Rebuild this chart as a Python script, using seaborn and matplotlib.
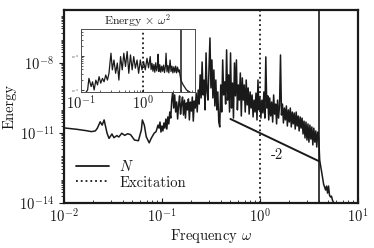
import matplotlib
matplotlib.use("Agg")
import matplotlib.pyplot as plt
import matplotlib.ticker as mticker
from matplotlib.lines import Line2D
import seaborn as sns
import numpy as np
import pandas as pd

# ── Data (log10 units) ───────────────────────────────────────────────────────
# low-frequency part of the spectrum
LOW_LOGW = [-2.00, -1.87, -1.77, -1.72, -1.68, -1.66, -1.63, -1.61, -1.59, -1.56,
            -1.54, -1.51, -1.49, -1.46, -1.44, -1.41, -1.38, -1.35, -1.32, -1.28,
            -1.24, -1.21, -1.20, -1.18, -1.16, -1.13, -1.11, -1.08, -1.06, -1.04]
LOW_LOGE = [-10.78, -10.84, -10.90, -10.94, -10.91, -10.80, -10.52, -10.66, -10.44, -11.01,
            -11.23, -11.04, -11.20, -11.11, -11.17, -11.01, -11.10, -11.03, -11.07, -11.30,
            -11.33, -10.87, -10.44, -10.66, -11.16, -11.42, -11.23, -11.01, -10.94, -10.66]

# noisy band up to the cut-off
MID_LOGW = [-1.03, -1.02, -1.01, -1.00, -0.99, -0.98, -0.97, -0.96, -0.95, -0.94,
            -0.93, -0.92, -0.91, -0.90, -0.89, -0.88, -0.87, -0.86, -0.85, -0.84,
            -0.83, -0.82, -0.81, -0.80, -0.79, -0.78, -0.77, -0.76, -0.75, -0.74,
            -0.73, -0.72, -0.71, -0.70, -0.69, -0.68, -0.67, -0.66, -0.65, -0.64,
            -0.63, -0.62, -0.61, -0.60, -0.59, -0.58, -0.57, -0.56, -0.55, -0.54,
            -0.53, -0.52, -0.51, -0.50, -0.49, -0.48, -0.47, -0.46, -0.45, -0.44,
            -0.43, -0.42, -0.41, -0.40, -0.39, -0.38, -0.37, -0.36, -0.35, -0.34,
            -0.33, -0.32, -0.31, -0.30, -0.29, -0.28, -0.27, -0.26, -0.25, -0.24,
            -0.23, -0.22, -0.21, -0.20, -0.19, -0.18, -0.17, -0.16, -0.15, -0.14,
            -0.13, -0.12, -0.11, -0.10, -0.09, -0.08, -0.07, -0.06, -0.05, -0.04,
            -0.03, -0.02, -0.01, 0.00, 0.01, 0.02, 0.03, 0.04, 0.05, 0.06,
            0.07, 0.08, 0.09, 0.10, 0.11, 0.12, 0.13, 0.14, 0.15, 0.16,
            0.17, 0.18, 0.19, 0.20, 0.21, 0.22, 0.23, 0.24, 0.25, 0.26,
            0.27, 0.28, 0.29, 0.30, 0.31, 0.32, 0.33, 0.34, 0.35, 0.36,
            0.37, 0.38, 0.39, 0.40, 0.41, 0.42, 0.43, 0.44, 0.45, 0.46,
            0.47, 0.48, 0.49, 0.50, 0.51, 0.52, 0.53, 0.54, 0.55, 0.56,
            0.57, 0.58, 0.59, 0.60]
MID_LOGE = [-10.79, -10.53, -10.96, -10.70, -10.91, -10.57, -10.79, -10.40, -10.83, -10.31,
            -10.61, -10.10, -10.36, -9.59, -9.24, -9.93, -9.37, -10.10, -9.67, -10.40,
            -9.80, -9.41, -10.19, -9.76, -9.46, -10.23, -9.59, -10.36, -9.71, -10.01,
            -9.54, -10.44, -9.67, -10.06, -9.46, -10.49, -9.63, -9.93, -9.29, -10.10,
            -9.16, -9.76, -8.51, -9.50, -7.96, -9.37, -8.73, -10.01, -7.57, -9.24,
            -9.59, -8.30, -6.93, -9.07, -7.87, -9.50, -8.30, -9.84, -8.73, -10.01,
            -9.24, -10.53, -10.74, -8.94, -10.10, -7.87, -9.37, -8.81, -9.76, -7.44,
            -9.59, -8.51, -10.10, -7.57, -9.93, -8.86, -10.36, -8.00, -9.41, -7.87,
            -10.01, -8.94, -9.59, -8.43, -10.27, -8.64, -9.59, -8.94, -10.10, -8.73,
            -9.80, -9.07, -10.19, -9.24, -9.93, -9.37, -10.31, -9.59, -10.10, -9.29,
            -10.44, -8.73, -10.01, -9.50, -10.36, -9.59, -10.14, -9.24, -10.36, -7.74,
            -9.93, -9.41, -10.44, -9.50, -10.27, -9.67, -10.53, -9.37, -10.19, -9.76,
            -10.61, -9.59, -10.36, -9.84, -7.66, -10.23, -9.76, -10.57, -9.93, -10.44,
            -9.84, -10.70, -10.01, -10.53, -9.93, -10.74, -10.10, -10.61, -10.14, -10.83,
            -10.10, -10.70, -10.27, -10.91, -10.31, -10.79, -10.36, -11.04, -10.49, -11.21,
            -10.53, -11.30, -10.61, -11.39, -10.66, -11.26, -10.74, -11.51, -10.79, -11.39,
            -10.91, -11.60, -10.96, -11.21]

# steep drop past the cut-off
TAIL_LOGW = [0.61, 0.62, 0.63, 0.64, 0.65, 0.66, 0.67, 0.68, 0.69, 0.70,
             0.71, 0.72, 0.73, 0.74, 0.75, 0.76, 0.78]
TAIL_LOGE = [-12.16, -12.41, -12.67, -12.93, -13.19, -13.31, -13.44, -13.27, -13.57, -13.27,
             -13.66, -13.74, -13.70, -13.87, -13.96, -14.09, -14.21]

# inset: Energy x w^2
INSET_LOGW = [-0.952, -0.894, -0.873, -0.837, -0.815, -0.789, -0.762, -0.735, -0.710, -0.683,
              -0.656, -0.630, -0.603, -0.576, -0.551, -0.535, -0.519, -0.497, -0.471, -0.444,
              -0.417, -0.392, -0.365, -0.338, -0.313, -0.286, -0.259, -0.233, -0.206, -0.179,
              -0.154, -0.127, -0.100, -0.075, -0.048, -0.021, 0.005, 0.032, 0.059, 0.084,
              0.111, 0.125, 0.140, 0.155, 0.170, 0.185, 0.200, 0.215, 0.230, 0.238,
              0.250, 0.265, 0.280, 0.295, 0.310, 0.325, 0.340, 0.355, 0.365, 0.380,
              0.395, 0.410, 0.430, 0.445, 0.460, 0.475, 0.490, 0.505, 0.520, 0.535,
              0.550, 0.565, 0.576, 0.603, 0.640, 0.694, 0.746, 0.790]
INSET_LOGY = [-11.15, -11.00, -10.66, -10.90, -10.76, -11.00, -10.71, -10.85, -10.61, -10.80,
              -10.66, -10.76, -10.56, -10.71, -10.51, -10.21, -9.92, -10.41, -10.12, -10.51,
              -10.21, -10.71, -10.02, -10.41, -9.92, -10.31, -9.87, -10.51, -9.97, -10.41,
              -10.02, -10.36, -10.12, -10.51, -10.12, -10.41, -10.17, -10.41, -10.07, -10.35,
              -10.02, -10.40, -10.22, -10.45, -10.25, -10.48, -10.20, -10.44, -10.28, -9.95,
              -10.46, -10.26, -10.48, -10.30, -10.45, -10.27, -10.49, -10.30, -9.92, -10.47,
              -10.28, -10.50, -10.12, -10.46, -10.30, -10.50, -10.32, -10.48, -10.30, -10.50,
              -10.33, -10.47, -10.41, -10.71, -10.85, -11.00, -11.06, -11.12]

EXCITATION_W = 1.0
CUTOFF_W = 4.0
SLOPE_W = [0.5, 4.0]
SLOPE_E = [4.0e-11, 6.25e-13]

# ── Style ────────────────────────────────────────────────────────────────────
sns.set_theme(style="ticks")
plt.rcParams.update({
    "font.family": "serif",
    "font.serif": ["cmr10"],
    "mathtext.fontset": "cm",
    "axes.formatter.use_mathtext": True,
    "axes.unicode_minus": False,
    "font.size": 10,
    "text.color": "k",
    "axes.edgecolor": "k",
    "axes.labelcolor": "k",
    "xtick.color": "k",
    "ytick.color": "k",
})

spec = pd.DataFrame({
    "w": 10 ** np.array(LOW_LOGW + MID_LOGW + TAIL_LOGW),
    "E": 10 ** np.array(LOW_LOGE + MID_LOGE + TAIL_LOGE),
})
inset = pd.DataFrame({"w": 10 ** np.array(INSET_LOGW), "Y": 10 ** np.array(INSET_LOGY)})

fig = plt.figure(figsize=(3.74, 2.48), dpi=100)
ax = fig.add_axes([0.171, 0.181, 0.786, 0.779])

sns.lineplot(data=spec, x="w", y="E", ax=ax, color="k", lw=1.1,
             estimator=None, sort=False)
ax.axvline(EXCITATION_W, color="k", ls=":", lw=1.3)
ax.axvline(CUTOFF_W, color="k", ls="-", lw=1.2)
ax.plot(SLOPE_W, SLOPE_E, color="k", lw=1.4)
ax.text(1.5, 1.15e-12, "-2", ha="center", va="center", fontsize=10.5)

ax.set_xscale("log")
ax.set_yscale("log")
ax.set_xlim(1e-2, 1e1)
ax.set_ylim(1e-14, 10 ** -5.73)
ax.set_yticks([1e-14, 1e-11, 1e-8])
ax.yaxis.set_minor_locator(mticker.LogLocator(base=10, subs=np.arange(1, 10), numticks=100))
ax.yaxis.set_minor_formatter(mticker.NullFormatter())
ax.xaxis.set_minor_locator(mticker.LogLocator(base=10, subs=np.arange(2, 10), numticks=100))
ax.xaxis.set_minor_formatter(mticker.NullFormatter())
ax.tick_params(axis="x", which="both", direction="in", labelsize=10.5)
ax.tick_params(axis="y", which="both", direction="out", labelsize=10.5)
ax.tick_params(which="major", length=3.5, width=0.8)
ax.tick_params(which="minor", length=2, width=0.6)
for s in ax.spines.values():
    s.set_linewidth(1.6)
ax.set_xlabel(r"Frequency $\omega$", fontsize=10.5, labelpad=1)
ax.set_ylabel("Energy", fontsize=10.5, labelpad=2)

handles = [Line2D([], [], color="k", lw=1.3, ls="-"),
           Line2D([], [], color="k", lw=1.3, ls=":")]
ax.legend(handles, [r"$N$", "Excitation"], loc="lower left",
          bbox_to_anchor=(0.02, 0.04), frameon=False, fontsize=10.5,
          handlelength=2.3, handletextpad=0.7, labelspacing=0.1, borderaxespad=0)

# ── Inset ────────────────────────────────────────────────────────────────────
axin = fig.add_axes([0.2166, 0.629, 0.3048, 0.254])
sns.lineplot(data=inset, x="w", y="Y", ax=axin, color="k", lw=0.9,
             estimator=None, sort=False)
axin.axvline(EXCITATION_W, color="k", ls=":", lw=1.3)
axin.axvline(CUTOFF_W, color="k", ls="-", lw=1.1)
axin.set_xscale("log")
axin.set_yscale("log")
axin.set_xlim(10 ** -0.98, 10 ** 0.83)
axin.set_ylim(10 ** -11.06, 10 ** -9.21)
axin.set_xticks([0.1, 1.0])
axin.set_yticks([1e-11, 1e-10])
axin.xaxis.set_minor_locator(mticker.LogLocator(base=10, subs=np.arange(2, 10), numticks=100))
axin.xaxis.set_minor_formatter(mticker.NullFormatter())
axin.yaxis.set_minor_formatter(mticker.NullFormatter())
axin.tick_params(axis="x", which="both", direction="in", labelsize=10.5, pad=2)
axin.tick_params(axis="y", which="both", direction="in", labelsize=2, pad=1)
axin.tick_params(which="major", length=2.5, width=0.6)
axin.tick_params(which="minor", length=1.5, width=0.5)
for s in axin.spines.values():
    s.set_linewidth(0.7)
    s.set_color("0.3")
axin.set_xlabel("")
axin.set_ylabel("")
axin.set_title(r"Energy $\times$ $\omega^2$", fontsize=8.5, pad=1.5)

fig.savefig("out.png", dpi=100)
